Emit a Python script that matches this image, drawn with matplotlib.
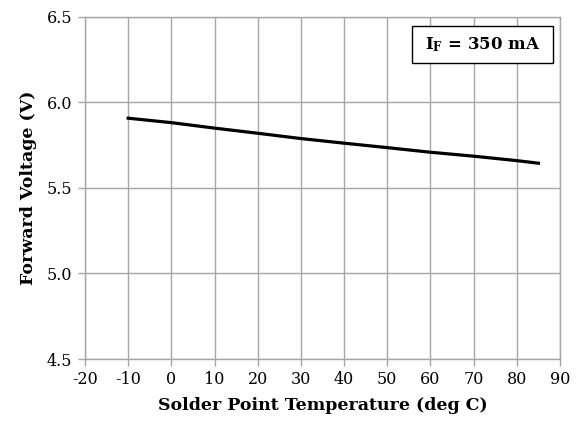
import numpy as np
import matplotlib
matplotlib.use('Agg')
import matplotlib.pyplot as plt
from matplotlib.patches import Rectangle

plt.rcParams['font.family'] = 'DejaVu Serif'
plt.rcParams['mathtext.fontset'] = 'dejavuserif'

temp_c = [-10, 0, 10, 20, 30, 40, 50, 60, 70, 80, 85]
vf = [5.907, 5.881, 5.849, 5.819, 5.788, 5.761, 5.735, 5.708, 5.685, 5.659, 5.644]

x_ticks = np.arange(-20, 91, 10)
y_ticks = [4.5, 5.0, 5.5, 6.0, 6.5]

fig = plt.figure(figsize=(5.82, 4.28), dpi=100)
ax = fig.add_axes([85 / 582, 1 - 359 / 428, (560 - 85) / 582, (359 - 16.7) / 428])

grid_col = '#a6a6a6'
ax.plot(temp_c, vf, color='black', linewidth=2.3, zorder=3)

ax.set_xlim(-20, 90)
ax.set_ylim(4.5, 6.5)
ax.set_xticks(x_ticks)
ax.set_xticklabels([str(t) for t in x_ticks])
ax.set_yticks(y_ticks)
ax.set_yticklabels([f'{v:.1f}' for v in y_ticks])
ax.grid(True, color=grid_col, linewidth=1.0)
ax.set_axisbelow(True)
for s in ax.spines.values():
    s.set_color(grid_col)
    s.set_linewidth(1.0)
ax.tick_params(axis='both', direction='out', length=5, width=1.0, color=grid_col,
               labelsize=11.5, pad=4)

ax.set_xlabel('Solder Point Temperature (deg C)', fontsize=12.5, fontweight='bold', labelpad=6)
ax.set_ylabel('Forward Voltage (V)', fontsize=12.5, fontweight='bold', labelpad=7)

# legend-like box in the upper right
ax.add_patch(Rectangle((0.688, 0.865), 0.297, 0.108, transform=ax.transAxes,
                       facecolor='white', edgecolor='black', linewidth=1.0, zorder=5))
ax.text(0.8365, 0.917, r'$\mathbf{I_F}$' + ' = 350 mA', transform=ax.transAxes,
        ha='center', va='center', fontsize=12, fontweight='bold', zorder=6)

fig.savefig('out.png', dpi=100)
